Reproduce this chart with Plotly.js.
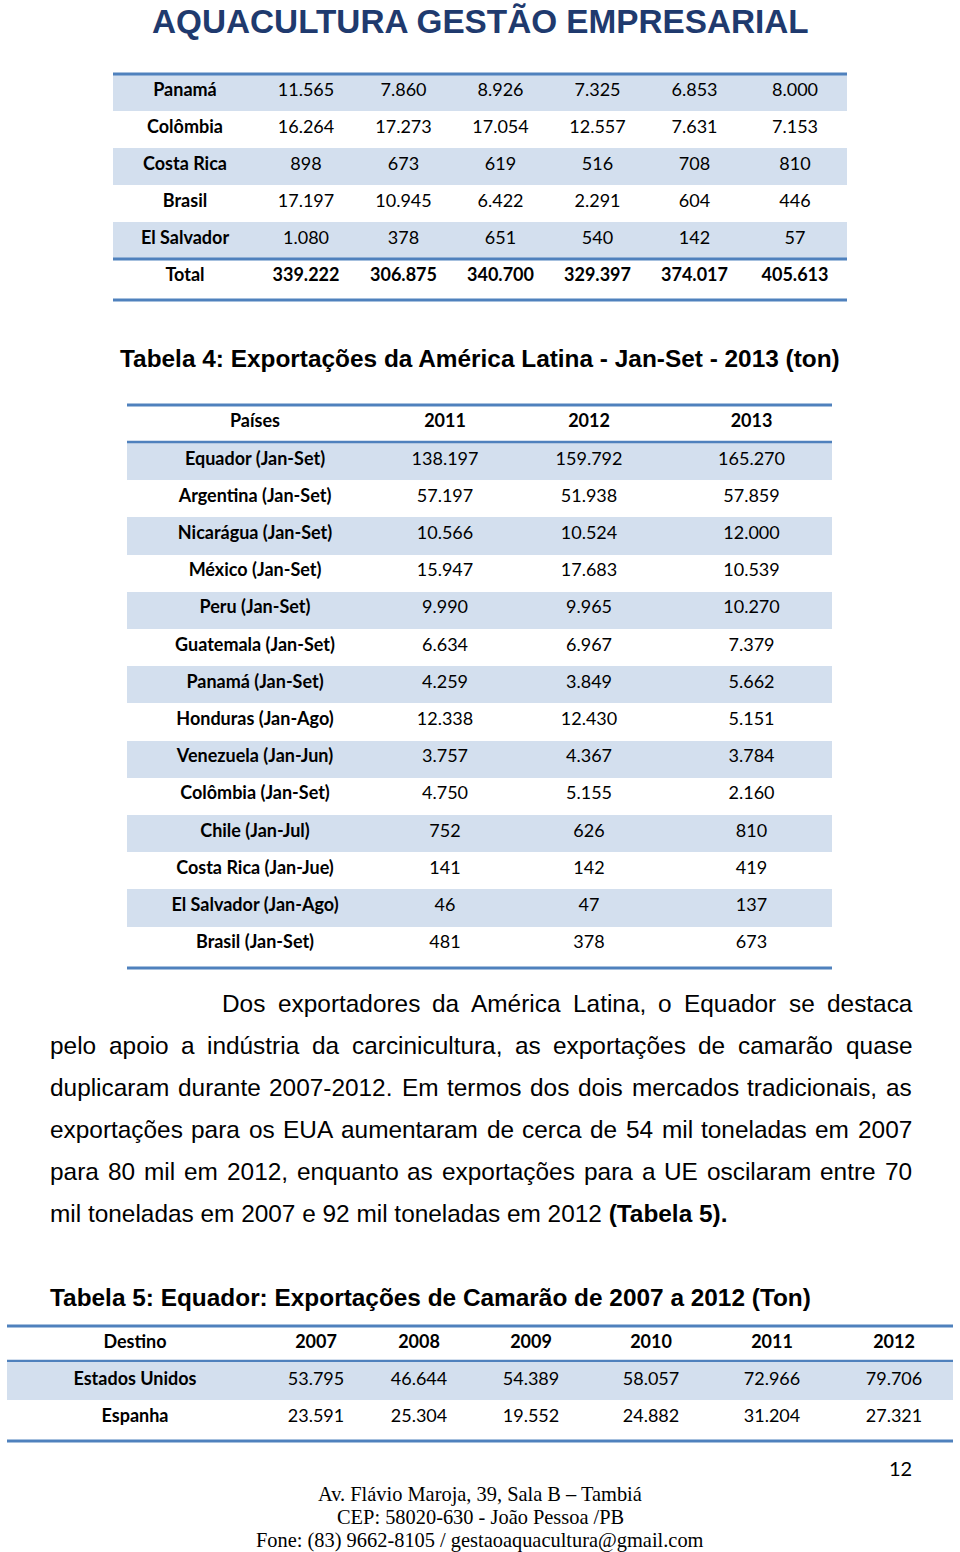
<!DOCTYPE html>
<html>
<head>
<meta charset="utf-8">
<script src="https://cdn.plot.ly/plotly-3.0.1.min.js"></script>
<style>body{margin:0;background:#fff}</style>
</head>
<body>
<div id="page" style="width:960px;height:1552px"></div>
<script>
// Tabela 3 (final part, header is on the previous page)
const t3Countries = ['Panamá', 'Colômbia', 'Costa Rica', 'Brasil', 'El Salvador'];
const t3Values = [
  [11565, 7860, 8926, 7325, 6853, 8000],
  [16264, 17273, 17054, 12557, 7631, 7153],
  [898, 673, 619, 516, 708, 810],
  [17197, 10945, 6422, 2291, 604, 446],
  [1080, 378, 651, 540, 142, 57]
];
const t3Total = [339222, 306875, 340700, 329397, 374017, 405613];

// Tabela 4
const t4Header = ['Países', '2011', '2012', '2013'];
const t4Countries = ['Equador (Jan-Set)', 'Argentina (Jan-Set)', 'Nicarágua (Jan-Set)', 'México (Jan-Set)',
  'Peru (Jan-Set)', 'Guatemala (Jan-Set)', 'Panamá (Jan-Set)', 'Honduras (Jan-Ago)', 'Venezuela (Jan-Jun)',
  'Colômbia (Jan-Set)', 'Chile (Jan-Jul)', 'Costa Rica (Jan-Jue)', 'El Salvador (Jan-Ago)', 'Brasil (Jan-Set)'];
const t4y2011 = [138197, 57197, 10566, 15947, 9990, 6634, 4259, 12338, 3757, 4750, 752, 141, 46, 481];
const t4y2012 = [159792, 51938, 10524, 17683, 9965, 6967, 3849, 12430, 4367, 5155, 626, 142, 47, 378];
const t4y2013 = [165270, 57859, 12000, 10539, 10270, 7379, 5662, 5151, 3784, 2160, 810, 419, 137, 673];

// Tabela 5
const t5Years = ['2007', '2008', '2009', '2010', '2011', '2012'];
const t5Destinos = ['Estados Unidos', 'Espanha'];
const t5EUA = [53795, 46644, 54389, 58057, 72966, 79706];
const t5Espanha = [23591, 25304, 19552, 24882, 31204, 27321];

const paraLines = [
  'Dos exportadores da América Latina, o Equador se destaca',
  'pelo apoio a indústria da carcinicultura, as exportações de camarão quase',
  'duplicaram durante 2007-2012. Em termos dos dois mercados tradicionais, as',
  'exportações para os EUA aumentaram de cerca de 54 mil toneladas em 2007',
  'para 80 mil em 2012, enquanto as exportações para a UE oscilaram entre 70'
];
const paraLast = 'mil toneladas em 2007 e 92 mil toneladas em 2012 <b>(Tabela 5).</b>';

const footerLines = [
  'Av. Flávio Maroja, 39, Sala B – Tambiá',
  'CEP: 58020-630 - João Pessoa /PB',
  'Fone: (83) 9662-8105 / gestaoaquacultura@gmail.com'
];

const W = 960, H = 1552;
const px = x => x / W;
const py = y => 1 - y / H;
const BLUE = '#4F81BD';
const SHADE = '#D3DFEE';
const cellFamily = 'Lato, "Open Sans", sans-serif';
const arial = '"Liberation Sans", Arial, sans-serif';
const CELL_SIZE = 18;

// 11565 -> 11.565
function fmt(n) {
  return String(n).replace(/\B(?=(\d{3})+(?!\d))/g, '.');
}

// row colours, one array per column
function stripes(nCols, nRows) {
  const col = [];
  for (let r = 0; r < nRows; r++) col.push(r % 2 === 0 ? SHADE : '#ffffff');
  return Array.from({length: nCols}, () => col);
}

const noLine = {width: 0, color: 'rgba(0,0,0,0)'};

// table 3
const t3Cols = [t3Countries.concat(['Total'])];
for (let j = 0; j < t3Total.length; j++) {
  t3Cols.push(t3Values.map(r => fmt(r[j])).concat([fmt(t3Total[j])]));
}
const t3Weight = t3Cols.map((col, j) => col.map((v, r) => (j === 0 || r === col.length - 1) ? 'bold' : 'normal'));
const table3 = {
  type: 'table',
  domain: {x: [px(113), px(847)], y: [py(320), py(58)]},
  columnwidth: [144, 98, 97, 97, 97, 97, 104],
  header: {values: [], height: 1, fill: {color: 'rgba(0,0,0,0)'}, line: noLine, font: {size: 1}},
  cells: {
    values: t3Cols,
    height: 37,
    align: 'center',
    fill: {color: stripes(7, 6)},
    line: noLine,
    font: {family: cellFamily, size: CELL_SIZE, color: '#000', weight: t3Weight}
  }
};

// table 4
const table4 = {
  type: 'table',
  domain: {x: [px(127), px(832)], y: [py(990), py(405)]},
  columnwidth: [256, 124, 164, 161],
  header: {
    values: t4Header,
    height: 38,
    align: 'center',
    fill: {color: '#ffffff'},
    line: noLine,
    font: {family: cellFamily, size: CELL_SIZE, color: '#000', weight: 'bold'}
  },
  cells: {
    values: [t4Countries, t4y2011.map(fmt), t4y2012.map(fmt), t4y2013.map(fmt)],
    height: 37.2,
    align: 'center',
    fill: {color: stripes(4, t4Countries.length)},
    line: noLine,
    font: {family: cellFamily, size: CELL_SIZE, color: '#000', weight: ['bold', 'normal', 'normal', 'normal']}
  }
};

// table 5
const table5 = {
  type: 'table',
  domain: {x: [px(7), px(953)], y: [py(1455), py(1326)]},
  columnwidth: [256, 106, 100, 124, 116, 126, 118],
  header: {
    values: ['Destino'].concat(t5Years),
    height: 37,
    align: 'center',
    fill: {color: '#ffffff'},
    line: noLine,
    font: {family: cellFamily, size: CELL_SIZE, color: '#000', weight: 'bold'}
  },
  cells: {
    values: [t5Destinos].concat(t5EUA.map((v, i) => [fmt(v), fmt(t5Espanha[i])])),
    height: 37.2,
    align: 'center',
    fill: {color: stripes(7, 2)},
    line: noLine,
    font: {family: cellFamily, size: CELL_SIZE, color: '#000',
      weight: ['bold', 'normal', 'normal', 'normal', 'normal', 'normal', 'normal']}
  }
};

function rule(x0, x1, y, w) {
  return {type: 'line', xref: 'paper', yref: 'paper', x0: px(x0), x1: px(x1), y0: py(y), y1: py(y),
    line: {color: BLUE, width: w}};
}
const shapes = [
  rule(113, 847, 74, 3), rule(113, 847, 259, 3), rule(113, 847, 300, 3),
  rule(127, 832, 405, 3), rule(127, 832, 442, 2.5), rule(127, 832, 968, 3),
  rule(7, 953, 1326, 3), rule(7, 953, 1361, 2.5), rule(7, 953, 1441, 3)
];

const annotations = [];
function note(text, x, y, size, opts) {
  annotations.push(Object.assign({
    text: text, xref: 'paper', yref: 'paper', x: px(x), y: py(y),
    xanchor: 'center', yanchor: 'middle', showarrow: false, borderpad: 0,
    font: {family: arial, size: size, color: '#000'}
  }, opts || {}));
}

note('<b>AQUACULTURA GESTÃO EMPRESARIAL</b>', 480, 22, 33.3, {font: {family: arial, size: 33.3, color: '#1F3A6E'}});
note('<b>Tabela 4: Exportações da América Latina - Jan-Set - 2013 (ton)</b>', 480, 358, 24.4);
note('<b>Tabela 5: Equador: Exportações de Camarão de 2007 a 2012 (Ton)</b>', 49, 1297, 24.4, {xanchor: 'left'});

// justified paragraph, word by word
const PARA_SIZE = 24.4;
const ctx = document.createElement('canvas').getContext('2d');
ctx.font = PARA_SIZE + 'px "Liberation Sans"';
const lineY = [1003, 1045, 1087, 1129, 1171];
paraLines.forEach((ln, i) => {
  const left = i === 0 ? 221 : 49, right = 911;
  const words = ln.split(' ');
  const widths = words.map(w => ctx.measureText(w).width);
  const gap = (right - left - widths.reduce((a, b) => a + b, 0)) / (words.length - 1);
  let x = left;
  words.forEach((w, k) => {
    note(w, x, lineY[i], PARA_SIZE, {xanchor: 'left'});
    x += widths[k] + gap;
  });
});
note(paraLast, 49, 1213, PARA_SIZE, {xanchor: 'left'});

note('12', 900, 1468, 20, {font: {family: cellFamily, size: 20, color: '#000'}});
footerLines.forEach((t, i) => {
  note(t, 480, 1494 + i * 23, 20.4, {font: {family: '"Liberation Serif", "Times New Roman", serif', size: 20.4, color: '#000'}});
});

Plotly.newPlot('page', [table3, table4, table5], {
  width: W,
  height: H,
  margin: {l: 0, r: 0, t: 0, b: 0},
  paper_bgcolor: '#ffffff',
  showlegend: false,
  shapes: shapes,
  annotations: annotations
}, {staticPlot: true});
</script>
</body>
</html>
